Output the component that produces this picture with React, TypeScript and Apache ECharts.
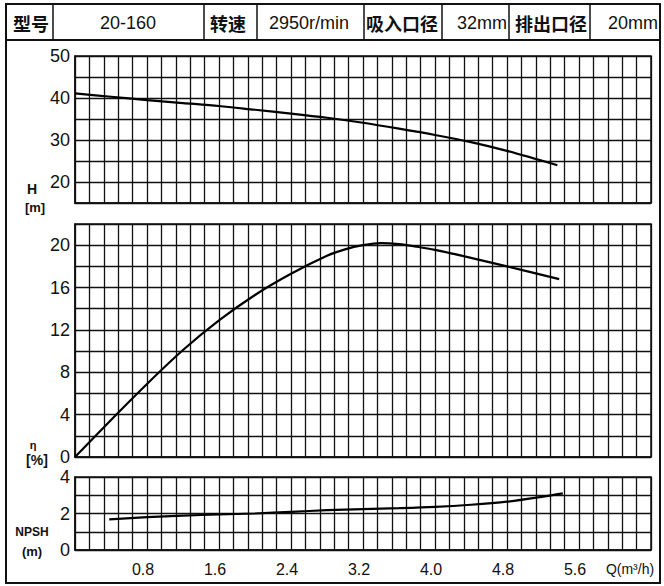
import React, { useEffect, useRef } from 'react';
import * as echarts from 'echarts';

// ---- data ----
const headerTexts = ['型号', '20-160', '转速', '2950r/min', '吸入口径', '32mm', '排出口径', '20mm'];

const headQ = [0, 0.4, 0.8, 1.2, 1.6, 2.0, 2.4, 2.8, 3.2, 3.6, 4.0, 4.4, 4.8, 5.36];
const headH = [41.1, 40.3, 39.5, 38.8, 38.1, 37.2, 36.3, 35.3, 34.1, 32.7, 31.2, 29.5, 27.4, 24.0];

const effQ = [0, 0.4, 0.8, 1.2, 1.6, 2.0, 2.4, 2.8, 3.0, 3.2, 3.4, 3.6, 3.8, 4.0, 4.4, 4.8, 5.38];
const effV = [0, 3.5, 6.9, 10.1, 12.9, 15.3, 17.3, 19.0, 19.6, 20.0, 20.2, 20.1, 19.85, 19.55, 18.8, 18.0, 16.8];

const npshQ = [0.38, 0.8, 1.2, 1.6, 2.0, 2.4, 2.8, 3.2, 3.6, 4.0, 4.4, 4.8, 5.2, 5.42];
const npshV = [1.68, 1.8, 1.88, 1.95, 2.0, 2.09, 2.18, 2.24, 2.29, 2.36, 2.48, 2.65, 2.92, 3.1];

const qMin = 0;
const qMax = 6.4;
const qStep = 0.16;
const qLabelStep = 0.8;

const yRanges = [
  { min: 15, max: 50, interval: 5, labelStep: 10, labelMin: 20, labelMax: 50 },
  { min: 0, max: 22, interval: 2, labelStep: 4, labelMin: 0, labelMax: 20 },
  { min: 0, max: 4, interval: 1, labelStep: 2, labelMin: 0, labelMax: 4 },
];

// ---- layout (not data) ----
const gridBoxes = [
  { top: 56, height: 147 },
  { top: 224, height: 233 },
  { top: 477, height: 73 },
];
const dividerX = [53, 204, 257, 364, 442, 509, 590];
const headerCenters = [31, 128, 228, 309, 402, 482, 551, 633];

const LINE = '#111';
const FONT = 'Liberation Sans, Arial, sans-serif';
const CJK = 'Noto Sans CJK SC, sans-serif';

function zip(xs: number[], ys: number[]) {
  return xs.map((x, i) => [x, ys[i]]);
}

function isMultiple(v: number, step: number) {
  const r = v / step;
  return Math.abs(r - Math.round(r)) < 1e-6;
}

export default function App() {
  const ref = useRef<HTMLDivElement>(null);
  useEffect(() => {
    const chart = echarts.init(ref.current!, null, { renderer: 'svg' });

    const grids = gridBoxes.map((g) => ({
      left: 75,
      width: 576,
      top: g.top,
      height: g.height,
      show: true,
      borderColor: LINE,
      borderWidth: 1.5,
      backgroundColor: 'transparent',
    }));

    const xAxes = gridBoxes.map((_, i) => ({
      type: 'value',
      gridIndex: i,
      min: qMin,
      max: qMax,
      interval: qStep,
      axisLine: { show: true, lineStyle: { color: LINE, width: 1.5 } },
      axisTick: { show: false },
      splitLine: { show: true, lineStyle: { color: LINE, width: 1.3 } },
      axisLabel:
        i === 2
          ? {
              show: true,
              color: '#111',
              fontSize: 16,
              fontFamily: FONT,
              margin: 11,
              padding: [0, 8, 0, 0],
              formatter: (v: number) =>
                v > 0.01 && v < qMax - 0.5 && isMultiple(v, qLabelStep) ? v.toFixed(1) : '',
            }
          : { show: false },
    }));

    const yAxes = yRanges.map((r, i) => ({
      type: 'value',
      gridIndex: i,
      min: r.min,
      max: r.max,
      interval: r.interval,
      axisLine: { show: true, lineStyle: { color: LINE, width: 1.5 } },
      axisTick: { show: false },
      splitLine: { show: true, lineStyle: { color: LINE, width: 1.3 } },
      axisLabel: {
        color: '#111',
        fontSize: 18,
        fontFamily: FONT,
        margin: 5,
        formatter: (v: number) =>
          v >= r.labelMin && v <= r.labelMax && isMultiple(v - r.labelMin, r.labelStep) ? String(v) : '',
      },
    }));

    const curveStyle = { color: '#000', width: 2.2 };
    const series = [
      { data: zip(headQ, headH), idx: 0 },
      { data: zip(effQ, effV), idx: 1 },
      { data: zip(npshQ, npshV), idx: 2 },
    ].map((s) => ({
      type: 'line',
      xAxisIndex: s.idx,
      yAxisIndex: s.idx,
      data: s.data,
      showSymbol: false,
      smooth: 0.3,
      lineStyle: curveStyle,
      itemStyle: { color: '#000' },
      silent: true,
    }));

    const label = (text: string, x: number, y: number, size: number) => ({
      type: 'text',
      x,
      y,
      style: { text, align: 'center', verticalAlign: 'middle', fontSize: size, fontWeight: 'bold', fontFamily: FONT, fill: '#111' },
    });

    const graphic: any[] = [
      {
        type: 'rect',
        shape: { x: 6, y: 4, width: 654, height: 579 },
        style: { fill: 'none', stroke: LINE, lineWidth: 2 },
        silent: true,
      },
      {
        type: 'line',
        shape: { x1: 6, y1: 40, x2: 660, y2: 40 },
        style: { stroke: LINE, lineWidth: 2 },
      },
      ...dividerX.map((x) => ({
        type: 'line',
        shape: { x1: x, y1: 4, x2: x, y2: 40 },
        style: { stroke: LINE, lineWidth: 1.5 },
      })),
      ...headerTexts.map((t, i) => {
        const cjk = /[\u4e00-\u9fff]/.test(t);
        return {
          type: 'text',
          x: headerCenters[i],
          y: 23,
          style: {
            text: t,
            align: 'center',
            verticalAlign: 'middle',
            fontSize: 18,
            fontWeight: cjk ? 'bold' : 'normal',
            fontFamily: cjk ? CJK : FONT,
            fill: '#111',
          },
        };
      }),
      label('H', 32, 189, 14),
      label('[m]', 35, 207, 13),
      label('η', 33, 445, 11),
      label('[%]', 37, 460, 14),
      label('NPSH', 32, 532, 12),
      label('(m)', 32, 551, 13),
      {
        type: 'text',
        x: 630,
        y: 569,
        style: { text: 'Q(m³/h)', align: 'center', verticalAlign: 'middle', fontSize: 14, fontFamily: FONT, fill: '#111' },
      },
    ];

    chart.setOption({
      animation: false,
      backgroundColor: '#fff',
      grid: grids,
      xAxis: xAxes,
      yAxis: yAxes,
      series,
      graphic,
    });
    return () => chart.dispose();
  }, []);
  return (
    <div
      ref={ref}
      style={{ position: 'fixed', left: 0, top: 0, width: 664, height: 586, background: '#fff' }}
    />
  );
}
